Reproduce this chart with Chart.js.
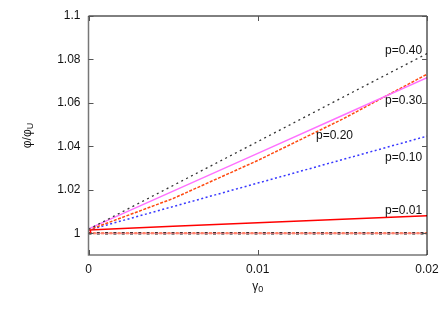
<!DOCTYPE html>
<html>
<head>
<meta charset="utf-8">
<script src="https://cdn.jsdelivr.net/npm/chart.js@4/dist/chart.umd.min.js"></script>
<style>
  html, body { margin: 0; padding: 0; background: #fff; }
  #wrap { width: 442px; height: 309px; }
</style>
</head>
<body>
<div id="wrap"><canvas id="grafico" width="442" height="309"></canvas></div>
<script>
// valores
const gamma = [0, 0.005, 0.01, 0.015, 0.02];
const p40 = [1.0018, 1.0220, 1.0422, 1.0625, 1.0827];
const p30 = [1.0020, 1.0194, 1.0368, 1.0542, 1.0716];
const p20 = [1.0015, 1.0160, 1.0335, 1.0525, 1.0732];
const p10 = [1.0015, 1.0123, 1.0231, 1.0339, 1.0447];
const p01 = [1.0015, 1.0032, 1.0048, 1.0065, 1.0081];
const p00 = [1.0, 1.0, 1.0, 1.0, 1.0];

const xTicks = [0, 0.01, 0.02];
const yTicks = [1, 1.02, 1.04, 1.06, 1.08, 1.1];

// rotulos das curvas (coordenadas em dados)
const labelText = ['p=0.40', 'p=0.30', 'p=0.20', 'p=0.10', 'p=0.01'];
const labelX = [0.01752, 0.01752, 0.01344, 0.01752, 0.01752];
const labelY = [1.0841, 1.0610, 1.0451, 1.0347, 1.0104];

const FONT = 'Liberation Sans, Arial, Helvetica, sans-serif';
Chart.defaults.font.family = FONT;
Chart.defaults.font.size = 12;
Chart.defaults.color = '#111';

const pts = ys => gamma.map((g, i) => ({ x: g, y: ys[i] }));

const serie = (ys, color, width, dash, offset) => ({
  data: pts(ys),
  borderColor: color,
  borderWidth: width,
  borderDash: dash || [],
  borderDashOffset: offset || 0,
  pointRadius: 0,
  fill: false,
  tension: 0
});

// moldura estilo gnuplot, ticks para dentro, titulos com subscrito
const frame = {
  id: 'frame',
  afterDraw(chart) {
    const { ctx, chartArea: a, scales } = chart;
    const xs = scales.x, ys = scales.y;
    ctx.save();
    ctx.lineCap = 'butt';

    // bordas
    ctx.strokeStyle = '#777';
    ctx.lineWidth = 1.5;
    ctx.beginPath();
    ctx.moveTo(a.left, a.top);
    ctx.lineTo(a.left, a.bottom);
    ctx.lineTo(a.right, a.bottom);
    ctx.stroke();
    ctx.strokeStyle = '#000';
    ctx.lineWidth = 1;
    ctx.beginPath();
    ctx.moveTo(a.left, a.top);
    ctx.lineTo(a.right, a.top);
    ctx.lineTo(a.right, a.bottom);
    ctx.stroke();

    // ticks
    ctx.strokeStyle = '#555';
    ctx.lineWidth = 1;
    ctx.beginPath();
    yTicks.forEach(v => {
      const y = Math.round(ys.getPixelForValue(v)) + 0.5;
      ctx.moveTo(a.left, y); ctx.lineTo(a.left + 5, y);
      ctx.moveTo(a.right, y); ctx.lineTo(a.right - 5, y);
    });
    xTicks.forEach(v => {
      const x = Math.round(xs.getPixelForValue(v)) + 0.5;
      ctx.moveTo(x, a.bottom); ctx.lineTo(x, a.bottom - 5);
      ctx.moveTo(x, a.top); ctx.lineTo(x, a.top + 5);
    });
    ctx.stroke();

    // pequeno trecho vertical vermelho no inicio
    ctx.strokeStyle = '#ff0000';
    ctx.lineWidth = 1.5;
    ctx.beginPath();
    ctx.moveTo(xs.getPixelForValue(0) + 2, ys.getPixelForValue(p00[0]));
    ctx.lineTo(xs.getPixelForValue(0) + 2, ys.getPixelForValue(p01[0]));
    ctx.stroke();

    // rotulos das curvas
    ctx.fillStyle = '#111';
    ctx.font = '12px ' + FONT;
    ctx.textAlign = 'left';
    ctx.textBaseline = 'middle';
    labelText.forEach((t, i) => {
      ctx.fillText(t, xs.getPixelForValue(labelX[i]), ys.getPixelForValue(labelY[i]));
    });

    // titulo eixo x: gamma_0
    const big = '12px ' + FONT, small = '9px ' + FONT;
    ctx.font = big;
    const wg = ctx.measureText('\u03b3').width;
    ctx.font = small;
    const w0 = ctx.measureText('0').width;
    let x0 = (a.left + a.right) / 2 - (wg + w0) / 2;
    ctx.font = big;
    ctx.fillText('\u03b3', x0, 287);
    ctx.font = small;
    ctx.fillText('0', x0 + wg, 290);

    // titulo eixo y: phi/phi_U
    ctx.translate(28, (a.top + a.bottom) / 2);
    ctx.rotate(-Math.PI / 2);
    ctx.font = big;
    const wp = ctx.measureText('\u03c6/\u03c6').width;
    ctx.font = small;
    const wu = ctx.measureText('U').width;
    x0 = -(wp + wu) / 2;
    ctx.font = big;
    ctx.fillText('\u03c6/\u03c6', x0, 0);
    ctx.font = small;
    ctx.fillText('U', x0 + wp, 3);
    ctx.restore();
  }
};

const ctx = document.getElementById('grafico').getContext('2d');
const chart = new Chart(ctx, {
  type: 'line',
  data: {
    datasets: [
      serie(p00, '#ff8a8a', 1),
      serie(p00, '#ff5a1e', 2, [3, 5.3], 4),
      serie(p00, '#111111', 2.5, [3, 5.3], 0),
      serie(p40, '#333333', 1.3, [2, 3.5]),
      serie(p30, '#ff70ff', 1.4),
      serie(p20, '#ff4a10', 1.5, [3, 1.5]),
      serie(p10, '#3838ff', 1.5, [2, 2.5]),
      serie(p01, '#ff0000', 1.5)
    ]
  },
  options: {
    responsive: false,
    animation: false,
    devicePixelRatio: 1,
    layout: { padding: { top: 16, right: 15, left: 0, bottom: 0 } },
    plugins: { legend: { display: false }, tooltip: { enabled: false } },
    scales: {
      x: {
        type: 'linear',
        min: 0,
        max: 0.02,
        afterBuildTicks: s => { s.ticks = xTicks.map(v => ({ value: v })); },
        afterFit: s => { s.height = 54; s.paddingLeft = 0; s.paddingRight = 0; },
        ticks: { padding: 7, maxRotation: 0, color: '#111', callback: v => String(v) },
        grid: { display: false, drawTicks: false },
        border: { display: false }
      },
      y: {
        type: 'linear',
        min: 0.99,
        max: 1.1,
        afterBuildTicks: s => { s.ticks = yTicks.map(v => ({ value: v })); },
        afterFit: s => { s.width = 88.5; s.paddingTop = 0; s.paddingBottom = 0; },
        ticks: { padding: 8, color: '#111', callback: v => String(v) },
        grid: { display: false, drawTicks: false },
        border: { display: false }
      }
    }
  },
  plugins: [frame]
});
</script>
</body>
</html>
